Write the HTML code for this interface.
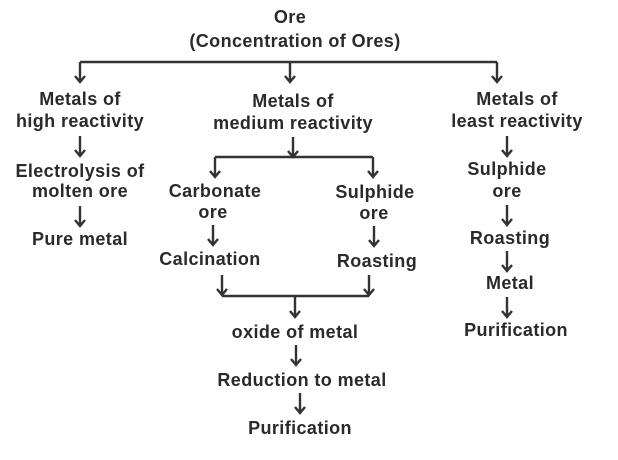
<!DOCTYPE html>
<html><head><meta charset="utf-8"><style>
html,body{margin:0;padding:0;background:#fff;}
svg{display:block;}
text{font-family:"Liberation Sans",Arial,sans-serif;font-weight:bold;font-size:18px;letter-spacing:0.4px;fill:#2a2a2a;text-anchor:middle;dominant-baseline:middle;}
.l{stroke:#333;stroke-width:2.4;fill:none;}
</style></head><body>
<svg width="618" height="460" viewBox="0 0 618 460">
<defs>
<g id="ar"><path class="l" d="M0,0 V20 M-5,14 L0,20 L5,14"/></g>
</defs>
<text x="290" y="18">Ore</text>
<text x="295" y="42">(Concentration of Ores)</text>
<path class="l" d="M80,62 H497"/>
<use href="#ar" x="80" y="62"/><use href="#ar" x="290" y="62"/><use href="#ar" x="497" y="62"/>

<text x="80" y="100">Metals of</text>
<text x="80" y="122">high reactivity</text>
<use href="#ar" x="80" y="136"/>
<text x="80" y="172">Electrolysis of</text>
<text x="80" y="192">molten ore</text>
<use href="#ar" x="80" y="206"/>
<text x="80" y="240">Pure metal</text>

<text x="293" y="102">Metals of</text>
<text x="293" y="124">medium reactivity</text>
<use href="#ar" x="293" y="137"/>
<path class="l" d="M215,157 H373"/>
<use href="#ar" x="215" y="157"/><use href="#ar" x="373" y="157"/>
<text x="215" y="192">Carbonate</text>
<text x="213" y="213">ore</text>
<use href="#ar" x="213" y="225"/>
<text x="210" y="260">Calcination</text>
<text x="375" y="193">Sulphide</text>
<text x="374" y="214">ore</text>
<use href="#ar" x="374" y="226"/>
<text x="377" y="262">Roasting</text>
<use href="#ar" x="222" y="275"/><use href="#ar" x="369" y="275"/>
<path class="l" d="M222,296 H369"/>
<use href="#ar" x="295" y="297"/>
<text x="295" y="333">oxide of metal</text>
<use href="#ar" x="296" y="345"/>
<text x="302" y="381">Reduction to metal</text>
<use href="#ar" x="300" y="393"/>
<text x="300" y="429">Purification</text>

<text x="517" y="100">Metals of</text>
<text x="517" y="122">least reactivity</text>
<use href="#ar" x="507" y="136"/>
<text x="507" y="170">Sulphide</text>
<text x="507" y="192">ore</text>
<use href="#ar" x="507" y="205"/>
<text x="510" y="239">Roasting</text>
<use href="#ar" x="507" y="251"/>
<text x="510" y="284">Metal</text>
<use href="#ar" x="507" y="297"/>
<text x="516" y="331">Purification</text>
</svg>
</body></html>
